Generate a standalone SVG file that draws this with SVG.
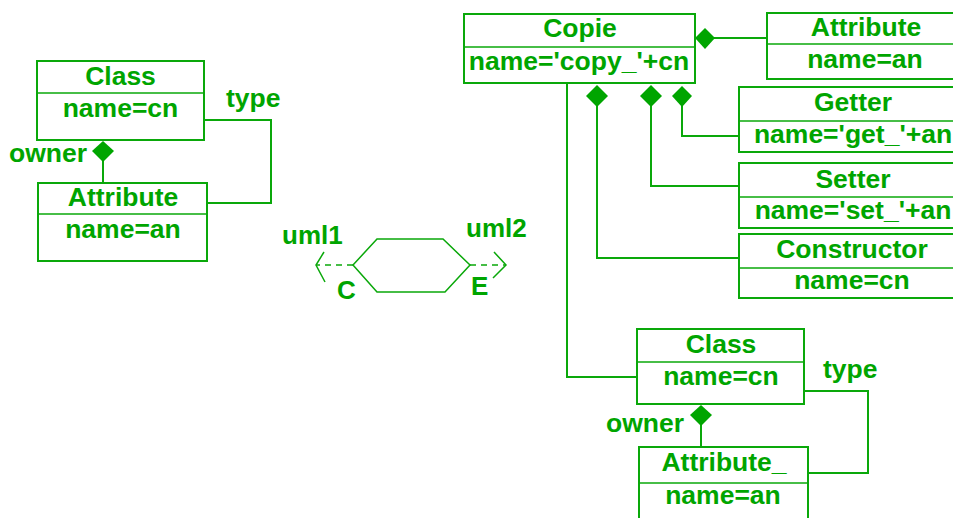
<svg xmlns="http://www.w3.org/2000/svg" width="953" height="518" viewBox="0 0 953 518">
<style>
.box{fill:#ffffff;stroke:#0aa80a;stroke-width:2}
.div{stroke:#0aa80a;stroke-width:1.5}
.ln{fill:none;stroke:#0aa80a;stroke-width:2}
.dia{fill:#00a500;stroke:none}
text{font-family:"Liberation Sans",Arial,sans-serif;font-weight:bold;font-size:26.5px;fill:#00a500}
.c{text-anchor:middle}
.s{font-size:26px}
</style>
<rect width="953" height="518" fill="#ffffff"/>
<g id="connectors">
  <polyline class="ln" points="204,120 271,120 271,203 207,203"/>
  <line class="ln" x1="103" y1="160" x2="103" y2="183"/>
  <polygon class="dia" points="103,141 114,151 103,162 92,151"/>
  <line class="ln" x1="714" y1="38" x2="767" y2="38"/>
  <polygon class="dia" points="695,38 705,28 715,38 705,49"/>
  <polyline class="ln" points="682,106 682,136 739,136"/>
  <polygon class="dia" points="682,86 692,96 682,107 672,96"/>
  <polyline class="ln" points="651,106 651,186 739,186"/>
  <polygon class="dia" points="651,85 662,96 651,107 640,96"/>
  <polyline class="ln" points="597,106 597,258 739,258"/>
  <polygon class="dia" points="597,85 608,96 597,107 586,96"/>
  <polyline class="ln" points="567,83 567,377 637,377"/>
  <polyline class="ln" points="804,391 868,391 868,473 808,473"/>
  <line class="ln" x1="701" y1="424" x2="701" y2="447"/>
  <polygon class="dia" points="701,405 712,415 701,426 690,415"/>
</g>
<g id="class-left">
  <rect class="box" x="37" y="61" width="167" height="79"/>
  <line class="div" x1="37" y1="93" x2="204" y2="93"/>
  <text class="c" x="120.5" y="85">Class</text>
  <text class="c" x="120.5" y="117">name=cn</text>
</g>
<g id="attribute-left">
  <rect class="box" x="38" y="183" width="169" height="78"/>
  <line class="div" x1="38" y1="214" x2="207" y2="214"/>
  <text class="c" x="123" y="206">Attribute</text>
  <text class="c" x="123" y="238">name=an</text>
</g>
<g id="labels-left">
  <text x="226" y="107">type</text>
  <text x="9" y="162">owner</text>
</g>
<g id="transform">
  <polygon points="353,265 377,239 443,239 470,265 445,292 377,292" fill="none" stroke="#0aa80a" stroke-width="1.5"/>
  <line x1="353" y1="265" x2="316" y2="265" stroke="#0aa80a" stroke-width="1.5" stroke-dasharray="6,5"/>
  <polyline points="324,252 316,265 325,282" fill="none" stroke="#0aa80a" stroke-width="1.5"/>
  <line x1="470" y1="265" x2="506" y2="265" stroke="#0aa80a" stroke-width="1.5" stroke-dasharray="6,5"/>
  <polyline points="494,252 506,265 493,278" fill="none" stroke="#0aa80a" stroke-width="1.5"/>
  <text class="s" x="282" y="244">uml1</text>
  <text class="s" x="466" y="237">uml2</text>
  <text class="s" x="337" y="299">C</text>
  <text class="s" x="471" y="295">E</text>
</g>
<g id="copie">
  <rect class="box" x="464" y="14" width="231" height="69"/>
  <line class="div" x1="464" y1="47" x2="695" y2="47"/>
  <text class="c" x="580" y="37">Copie</text>
  <text class="c" x="579" y="70">name='copy_'+cn</text>
</g>
<g id="attribute-right">
  <rect class="box" x="767" y="13" width="200" height="66"/>
  <line class="div" x1="767" y1="44" x2="967" y2="44"/>
  <text class="c" x="866" y="36">Attribute</text>
  <text class="c" x="865" y="68">name=an</text>
</g>
<g id="getter">
  <rect class="box" x="739" y="87" width="230" height="65"/>
  <line class="div" x1="739" y1="121" x2="969" y2="121"/>
  <text class="c" x="853" y="111">Getter</text>
  <text class="c" x="853" y="143">name='get_'+an</text>
</g>
<g id="setter">
  <rect class="box" x="739" y="163" width="230" height="65"/>
  <line class="div" x1="739" y1="197" x2="969" y2="197"/>
  <text class="c" x="853" y="188">Setter</text>
  <text class="c" x="853" y="219">name='set_'+an</text>
</g>
<g id="constructor">
  <rect class="box" x="739" y="234" width="230" height="64"/>
  <line class="div" x1="739" y1="268" x2="969" y2="268"/>
  <text class="c" x="852" y="258">Constructor</text>
  <text class="c" x="852" y="289">name=cn</text>
</g>
<g id="class-bottom">
  <rect class="box" x="637" y="329" width="167" height="75"/>
  <line class="div" x1="637" y1="362" x2="804" y2="362"/>
  <text class="c" x="721" y="353">Class</text>
  <text class="c" x="721" y="385">name=cn</text>
</g>
<g id="attribute-bottom">
  <rect class="box" x="639" y="447" width="169" height="90"/>
  <line class="div" x1="639" y1="483" x2="808" y2="483"/>
  <text class="c" x="724" y="471">Attribute_</text>
  <text class="c" x="723" y="504">name=an</text>
</g>
<g id="labels-bottom">
  <text x="823" y="378">type</text>
  <text x="606" y="432">owner</text>
</g>
</svg>
